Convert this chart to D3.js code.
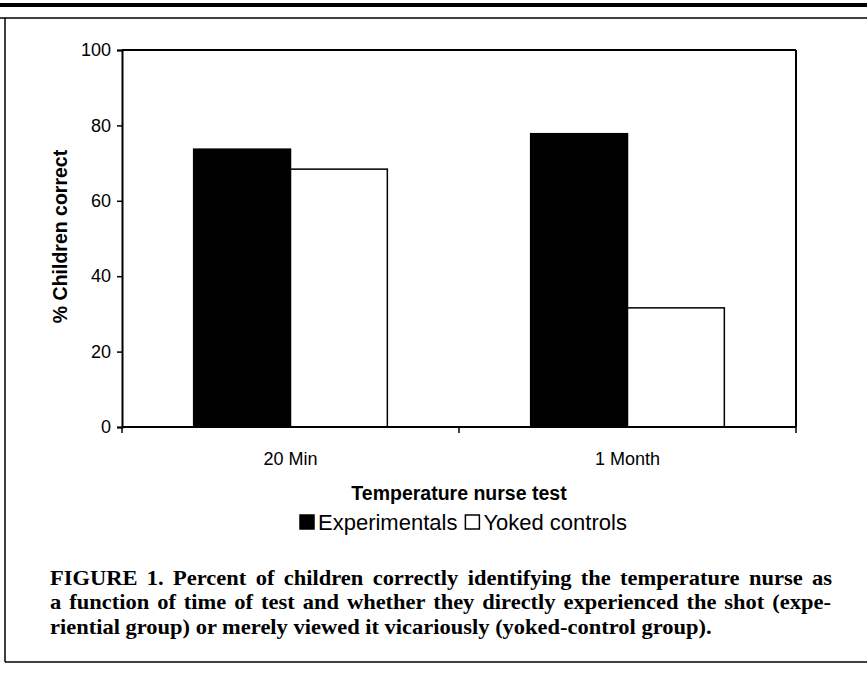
<!DOCTYPE html>
<html><head><meta charset="utf-8">
<script src="https://cdn.jsdelivr.net/npm/d3@7"></script>
<style>body{margin:0;background:#fff}svg{display:block}</style>
</head><body>
<svg id="c" width="867" height="676"></svg>
<script>
const categories = ["20 Min", "1 Month"];
const seriesNames = ["Experimentals", "Yoked controls"];
const experimentals = [73.7, 77.8];
const yokedControls = [68.4, 31.6];
const yTicks = [0, 20, 40, 60, 80, 100];
const yTitle = "% Children correct";
const xTitle = "Temperature nurse test";
const captionLines = [
  "FIGURE 1. Percent of children correctly identifying the temperature nurse as",
  "a function of time of test and whether they directly experienced the shot (expe-",
  "riential group) or merely viewed it vicariously (yoked-control group)."
];

const svg = d3.select("#c");
const L = 122, R = 796, T = 50, B = 427;
const sans = "Liberation Sans, Arial, Helvetica, sans-serif";
const serif = "Liberation Serif, Times New Roman, serif";

// page rules and box
svg.append("rect").attr("x", 0).attr("y", 3).attr("width", 867).attr("height", 4).attr("fill", "#000");
svg.append("line").attr("x1", 0).attr("x2", 867).attr("y1", 18).attr("y2", 18).attr("stroke", "#000").attr("stroke-width", 1.5);
svg.append("line").attr("x1", 5).attr("x2", 5).attr("y1", 18).attr("y2", 662).attr("stroke", "#000").attr("stroke-width", 1.5);
svg.append("line").attr("x1", 5).attr("x2", 867).attr("y1", 662).attr("y2", 662).attr("stroke", "#000").attr("stroke-width", 1.5);

const x = d3.scaleBand().domain(categories).range([L, R]).paddingInner(0).paddingOuter(0);
const inner = d3.scaleBand().domain(seriesNames).range([0, x.bandwidth()]).paddingInner(0).paddingOuter(0.74);
const y = d3.scaleLinear().domain([0, 100]).range([B, T]);

const data = categories.map((c, i) => ({c, vals: [
  {s: seriesNames[0], v: experimentals[i]},
  {s: seriesNames[1], v: yokedControls[i]}]}));

const g = svg.append("g");
g.selectAll("g.grp").data(data).join("g").attr("class", "grp")
  .attr("transform", d => `translate(${x(d.c)},0)`)
  .selectAll("rect").data(d => d.vals).join("rect")
  .attr("x", d => inner(d.s))
  .attr("width", inner.bandwidth())
  .attr("y", d => y(d.v))
  .attr("height", d => y(0) - y(d.v))
  .attr("fill", d => d.s === seriesNames[0] ? "#000" : "#fff")
  .attr("stroke", "#000").attr("stroke-width", 1.5);

// frame top and right
svg.append("line").attr("x1", L).attr("x2", R).attr("y1", T).attr("y2", T).attr("stroke", "#000").attr("stroke-width", 2);
svg.append("line").attr("x1", R).attr("x2", R).attr("y1", T).attr("y2", B).attr("stroke", "#000").attr("stroke-width", 2);

// y axis
const ya = svg.append("g").attr("transform", `translate(${L},0)`)
  .call(d3.axisLeft(y).tickValues(yTicks).tickSize(5).tickPadding(6));
ya.select(".domain").attr("stroke-width", 2);
ya.selectAll(".tick line").attr("stroke-width", 1.5);
ya.selectAll("text").attr("font-family", sans).attr("font-size", 18).attr("fill", "#000");

// x axis: ticks at category boundaries
const xa = svg.append("g").attr("transform", `translate(0,${B})`);
xa.append("line").attr("x1", L).attr("x2", R).attr("stroke", "#000").attr("stroke-width", 2);
const bounds = categories.map(c => x(c)).concat([x(categories[categories.length-1]) + x.bandwidth()]);
xa.selectAll("line.tk").data(bounds).join("line").attr("class", "tk")
  .attr("x1", d => d).attr("x2", d => d).attr("y1", 0).attr("y2", 6).attr("stroke", "#000").attr("stroke-width", 1.5);
xa.selectAll("text").data(categories).join("text")
  .attr("x", d => x(d) + x.bandwidth()/2).attr("y", 38)
  .attr("text-anchor", "middle").attr("font-family", sans).attr("font-size", 18).text(d => d);

// titles
svg.append("text").attr("transform", `translate(67,${(T+B)/2 - 2}) rotate(-90)`)
  .attr("text-anchor", "middle").attr("font-family", sans).attr("font-weight", "bold").attr("font-size", 19.5).text(yTitle);
svg.append("text").attr("x", (L+R)/2).attr("y", 500)
  .attr("text-anchor", "middle").attr("font-family", sans).attr("font-weight", "bold").attr("font-size", 19.5).text(xTitle);

// legend
const lg = svg.append("g");
let lxPos = 299;
seriesNames.forEach((s, i) => {
  lg.append("rect").attr("x", lxPos + 1).attr("y", 515).attr("width", 14).attr("height", 14)
    .attr("fill", i === 0 ? "#000" : "#fff").attr("stroke", "#000").attr("stroke-width", 1.5);
  const t = lg.append("text").attr("x", lxPos + 19).attr("y", 530).attr("font-family", sans).attr("font-size", 22).text(s);
  lxPos = lxPos + 19 + t.node().getComputedTextLength() + 7;
});

// caption: condensed serif, justified (lines 1-2), last line natural
const cap = svg.append("g");
const capTexts = captionLines.map((t, i) => cap.append("text").attr("x", 0).attr("y", 585 + i*24.5)
  .attr("font-family", serif).attr("font-weight", "bold").attr("font-size", 22).text(t));
const w3 = capTexts[2].node().getComputedTextLength();
const sx = 662 / w3;
cap.attr("transform", `translate(50,0) scale(${sx},1)`);
const targets = [782, 781];
[0, 1].forEach(i => {
  const w = capTexts[i].node().getComputedTextLength();
  const nSp = (captionLines[i].match(/ /g) || []).length;
  const extra = (targets[i] / sx - w) / nSp;
  capTexts[i].attr("word-spacing", extra);
});
</script>
</body></html>
